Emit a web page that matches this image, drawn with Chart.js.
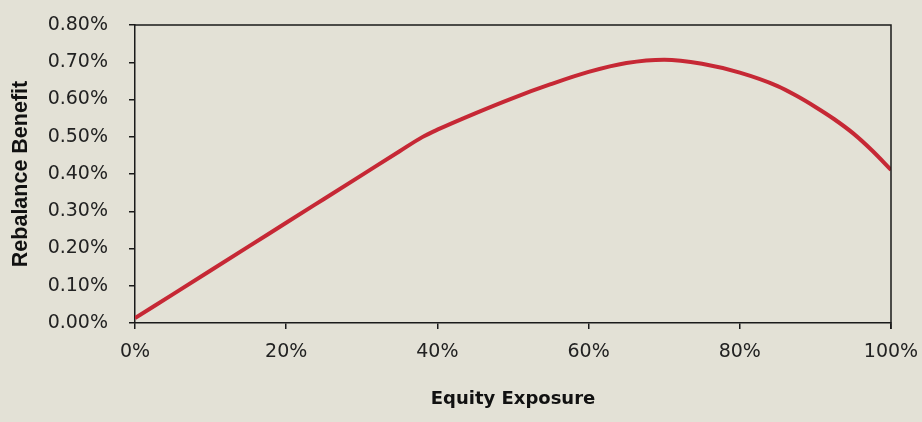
<!DOCTYPE html>
<html>
<head>
<meta charset="utf-8">
<script src="https://cdn.jsdelivr.net/npm/chart.js@4/dist/chart.umd.min.js"></script>
<style>
  html, body { margin: 0; padding: 0; background: #E3E1D6; }
  #wrap { width: 922px; height: 422px; position: relative; }
</style>
</head>
<body>
<div id="wrap"><canvas id="c" width="922" height="422"></canvas></div>
<script>
const equityExposure = [0, 5, 10, 15, 20, 25, 30, 35, 38, 40, 45, 50, 55, 60, 65, 70, 75, 80, 85, 87.5, 90, 92.5, 95, 97.5, 100];
const rebalanceBenefit = [0.013, 0.077, 0.141, 0.205, 0.269, 0.333, 0.397, 0.461, 0.499, 0.519, 0.563, 0.604, 0.641, 0.674, 0.698, 0.707, 0.696, 0.672, 0.636, 0.610, 0.580, 0.547, 0.509, 0.463, 0.411];
const xTicks = [0, 20, 40, 60, 80, 100];
const yTicks = [0, 0.1, 0.2, 0.3, 0.4, 0.5, 0.6, 0.7, 0.8];

const points = equityExposure.map((x, i) => ({ x: x, y: rebalanceBenefit[i] }));

const frame = {
  id: 'frame',
  afterDatasetsDraw(chart) {
    const { ctx, chartArea: a } = chart;
    ctx.save();
    ctx.strokeStyle = '#1a1a1a';
    ctx.lineWidth = 1.5;
    ctx.beginPath();
    ctx.moveTo(a.left, a.top);
    ctx.lineTo(a.right, a.top);
    ctx.lineTo(a.right, a.bottom + 6);
    ctx.stroke();
    ctx.restore();
  }
};

new Chart(document.getElementById('c'), {
  type: 'line',
  data: {
    datasets: [{
      data: points,
      borderColor: '#C62835',
      borderWidth: 4,
      pointRadius: 0,
      fill: false,
      cubicInterpolationMode: 'monotone'
    }]
  },
  plugins: [frame],
  options: {
    responsive: false,
    animation: false,
    devicePixelRatio: 1,
    layout: { padding: { left: 8, right: 31, top: 25, bottom: 0 } },
    plugins: { legend: { display: false }, tooltip: { enabled: false } },
    scales: {
      x: {
        type: 'linear',
        min: 0, max: 100,
        afterBuildTicks(axis) { axis.ticks = xTicks.map(v => ({ value: v })); },
        afterFit(axis) { axis.height = 99; axis.paddingLeft = 0; axis.paddingRight = 0; },
        border: { display: true, color: '#1a1a1a', width: 1.5 },
        grid: { display: true, drawOnChartArea: false, drawTicks: true, tickLength: 6, color: '#1a1a1a', lineWidth: 1.5 },
        ticks: {
          color: '#222',
          font: { family: 'DejaVu Sans', size: 19 },
          padding: 12,
          maxRotation: 0,
          callback: v => v + '%'
        },
        title: {
          display: true,
          text: 'Equity Exposure',
          color: '#111',
          font: { family: 'DejaVu Sans', size: 18, weight: 'bold' },
          padding: { top: 14, bottom: 12 }
        }
      },
      y: {
        type: 'linear',
        min: 0, max: 0.8,
        afterBuildTicks(axis) { axis.ticks = yTicks.map(v => ({ value: v })); },
        afterFit(axis) { axis.width = 127; axis.paddingTop = 0; axis.paddingBottom = 0; },
        border: { display: true, color: '#1a1a1a', width: 1.5 },
        grid: { display: true, drawOnChartArea: false, drawTicks: true, tickLength: 6, color: '#1a1a1a', lineWidth: 1.5 },
        ticks: {
          color: '#222',
          font: { family: 'DejaVu Sans', size: 19 },
          padding: 21,
          callback: v => v.toFixed(2) + '%'
        },
        title: {
          display: true,
          text: 'Rebalance Benefit',
          color: '#111',
          font: { family: 'Liberation Sans', size: 21.5, weight: 'bold' },
          padding: { top: 0, bottom: 0 }
        }
      }
    }
  }
});
</script>
</body>
</html>
